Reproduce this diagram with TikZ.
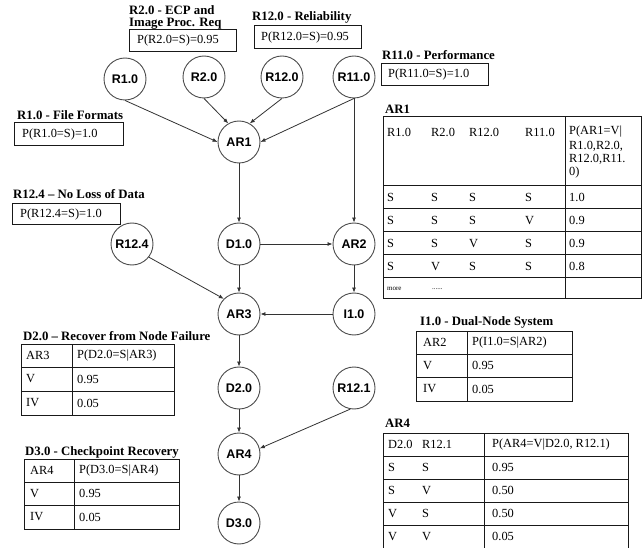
\documentclass[tikz,border=0pt]{standalone}
\usepackage{fontspec}
\setmainfont{Liberation Serif}
\newfontfamily\nodefont{Liberation Sans}
\usetikzlibrary{arrows.meta}
\begin{document}
\begin{tikzpicture}[x=1pt,y=-1pt,
  bn/.style={circle,draw=black!70,line width=0.9pt,minimum size=42pt,inner sep=0pt,
    font=\nodefont\bfseries\fontsize{12.5}{14}\selectfont},
  edge/.style={draw=black!80,line width=0.8pt,-{Latex[length=5pt,width=4pt]}},
  ttl/.style={anchor=west,inner sep=0pt,font=\bfseries\fontsize{12.8}{14}\selectfont},
  txt/.style={anchor=west,inner sep=0pt,font=\fontsize{12.4}{14}\selectfont},
  tiny/.style={anchor=west,inner sep=0pt,font=\fontsize{7}{8}\selectfont},
  tbl/.style={draw=black!90,line width=1pt},
]
\useasboundingbox (0,0) rectangle (643,548);
\fill[white] (0,0) rectangle (643,548);

% ---------- graph nodes ----------
\node[bn] (R1)   at (125,79)  {R1.0};
\node[bn] (R2)   at (204,77)  {R2.0};
\node[bn] (R12)  at (282,77)  {R12.0};
\node[bn] (R11)  at (354,77)  {R11.0};
\node[bn] (AR1)  at (239,142) {AR1};
\node[bn] (D1)   at (239,244) {D1.0};
\node[bn] (AR2)  at (354,244) {AR2};
\node[bn] (R124) at (132,244) {R12.4};
\node[bn] (AR3)  at (239,314) {AR3};
\node[bn] (I1)   at (354,314) {I1.0};
\node[bn] (D2)   at (239,388) {D2.0};
\node[bn] (R121) at (354,388) {R12.1};
\node[bn] (AR4)  at (239,454) {AR4};
\node[bn] (D3)   at (239,523) {D3.0};

% ---------- connectors ----------
\draw[edge] (R1.south) -- (AR1.west);
\draw[edge] (R2.south) -- (AR1.120);
\draw[edge] (R12.south) -- (AR1.60);
\draw[edge] (R11.south) -- (AR1.east);
\draw[edge] (R11.south) -- (AR2.north);
\draw[edge] (AR1) -- (D1);
\draw[edge] (D1) -- (AR2);
\draw[edge] (D1) -- (AR3);
\draw[edge] (R124.-38) -- (AR3.135);
\draw[edge] (AR2) -- (I1);
\draw[edge] (I1) -- (AR3);
\draw[edge] (AR3) -- (D2);
\draw[edge] (D2) -- (AR4);
\draw[edge] (R121.260) -- (AR4.15);
\draw[edge] (AR4) -- (D3);

% ---------- prior boxes ----------
\node[ttl] (tR2a) at (129,10) {R2.0 - ECP and};
\node[ttl] (tR2b) at (129,24) {Image Proc. Req};
\draw[tbl] (129,30) rectangle (236,52);
\node[txt] (pR2) at (137,41) {P(R2.0=S)=0.95};

\node[ttl] (tR12) at (252,17.5) {R12.0 - Reliability};
\draw[tbl] (254,26) rectangle (361,49);
\node[txt] (pR12) at (261,37.5) {P(R12.0=S)=0.95};

\node[ttl] (tR11) at (382,55) {R11.0 - Performance};
\draw[tbl] (381,64) rectangle (488,86);
\node[txt] (pR11) at (388,75) {P(R11.0=S)=1.0};

\node[ttl] (tR1) at (17,115) {R1.0 - File Formats};
\draw[tbl] (14,123) rectangle (123,146);
\node[txt] (pR1) at (22,134.5) {P(R1.0=S)=1.0};

\node[ttl] (tR124) at (13,194) {R12.4 -- No Loss of Data};
\draw[tbl] (12,204) rectangle (120,225);
\node[txt] (pR124) at (20,214.5) {P(R12.4=S)=1.0};

% ---------- AR1 table ----------
\node[ttl] (tAR1) at (385,109) {AR1};
\draw[tbl] (383,117) rectangle (641,299);
\draw[tbl] (565,117) -- (565,299);
\foreach \yy in {186,209,232,255,278} \draw[tbl] (383,\yy) -- (641,\yy);
\node[txt] (a1h1) at (387,132) {R1.0};
\node[txt] (a1h2) at (431,132) {R2.0};
\node[txt] (a1h3) at (469,132) {R12.0};
\node[txt] (a1h4) at (525,132) {R11.0};
\node[txt] (a1p1) at (569,132) {P(AR1=V|};
\node[txt] (a1p2) at (569,146) {R1.0,R2.0,};
\node[txt] (a1p3) at (569,159.5) {R12.0,R11.};
\node[txt] (a1p4) at (569,173) {0)};
\foreach \yy/\a/\b/\c/\d/\p [count=\i] in
  {197.5/S/S/S/S/1.0, 220.5/S/S/S/V/0.9, 243.5/S/S/V/S/0.9, 266.5/S/V/S/S/0.8} {
  \node[txt] (a1r\i a) at (387,\yy) {\a};
  \node[txt] (a1r\i b) at (431,\yy) {\b};
  \node[txt] (a1r\i c) at (469,\yy) {\c};
  \node[txt] (a1r\i d) at (525,\yy) {\d};
  \node[txt] (a1r\i p) at (569,\yy) {\p};
}
\node[tiny] (a1more) at (387,289) {more};
\node[tiny] (a1dots) at (432,289) {......};

% ---------- I1.0 table ----------
\node[ttl] (tI1) at (420,322) {I1.0 - Dual-Node System};
\draw[tbl] (416,331) rectangle (572,401);
\draw[tbl] (467,331) -- (467,401);
\draw[tbl] (416,354) -- (572,354);
\draw[tbl] (416,377) -- (572,377);
\node[txt] (i1a) at (423,342.5) {AR2};
\node[txt] (i1b) at (472,342.5) {P(I1.0=S|AR2)};
\node[txt] (i1c) at (423,365.5) {V};
\node[txt] (i1d) at (472,365.5) {0.95};
\node[txt] (i1e) at (423,389) {IV};
\node[txt] (i1f) at (472,389) {0.05};

% ---------- D2.0 table ----------
\node[ttl] (tD2) at (23,336) {D2.0 -- Recover from Node Failure};
\draw[tbl] (21,344) rectangle (174,415);
\draw[tbl] (72,344) -- (72,415);
\draw[tbl] (21,367) -- (174,367);
\draw[tbl] (21,391) -- (174,391);
\node[txt] (d2a) at (26,355.5) {AR3};
\node[txt] (d2b) at (77,355.5) {P(D2.0=S|AR3)};
\node[txt] (d2c) at (26,379) {V};
\node[txt] (d2d) at (77,379) {0.95};
\node[txt] (d2e) at (26,403) {IV};
\node[txt] (d2f) at (77,403) {0.05};

% ---------- D3.0 table ----------
\node[ttl] (tD3) at (25,452) {D3.0 - Checkpoint Recovery};
\draw[tbl] (24,459) rectangle (179,529);
\draw[tbl] (74,459) -- (74,529);
\draw[tbl] (24,482) -- (179,482);
\draw[tbl] (24,505) -- (179,505);
\node[txt] (d3a) at (30,470.5) {AR4};
\node[txt] (d3b) at (79,470.5) {P(D3.0=S|AR4)};
\node[txt] (d3c) at (30,493.5) {V};
\node[txt] (d3d) at (79,493.5) {0.95};
\node[txt] (d3e) at (30,517) {IV};
\node[txt] (d3f) at (79,517) {0.05};

% ---------- AR4 table ----------
\node[ttl] (tAR4) at (385,423) {AR4};
\draw[tbl] (383,552) -- (383,433) -- (628,433) -- (628,552);
\draw[tbl] (484,433) -- (484,552);
\foreach \yy in {456,479,502,525} \draw[tbl] (383,\yy) -- (628,\yy);
\node[txt] (a4h1) at (388,444.5) {D2.0};
\node[txt] (a4h2) at (422,444.5) {R12.1};
\node[txt] (a4h3) at (492,444.5) {P(AR4=V|D2.0, R12.1)};
\foreach \yy/\a/\b/\p [count=\i] in
  {467.5/S/S/0.95, 490.5/S/V/0.50, 513.5/V/S/0.50, 536.5/V/V/0.05} {
  \node[txt] (a4r\i a) at (388,\yy) {\a};
  \node[txt] (a4r\i b) at (422,\yy) {\b};
  \node[txt] (a4r\i p) at (492,\yy) {\p};
}
\end{tikzpicture}
\end{document}
